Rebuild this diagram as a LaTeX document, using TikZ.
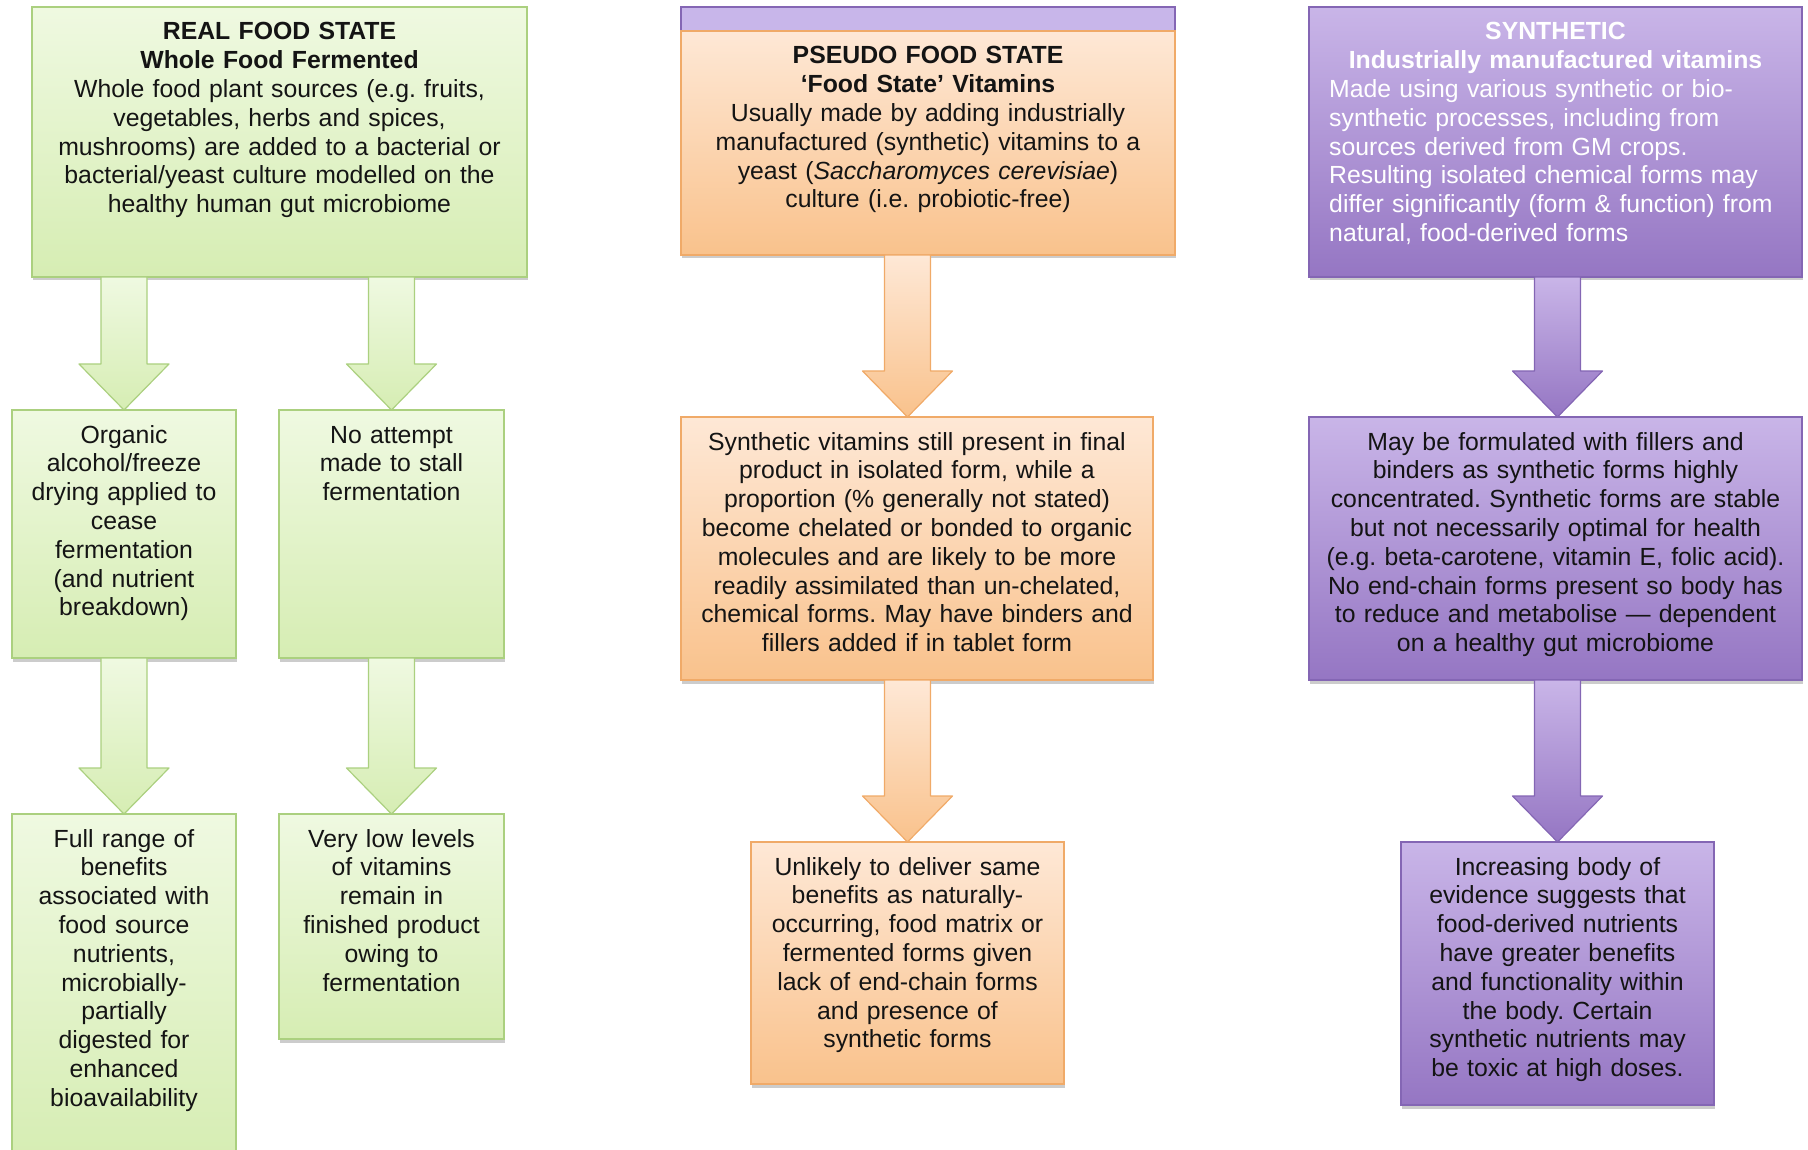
\documentclass[tikz,border=0pt]{standalone}
\usepackage{fontspec}
\setmainfont{Liberation Sans}
\usetikzlibrary{calc,shadows}
\frenchspacing
\definecolor{gB}{HTML}{ABD07F}
\definecolor{gT}{HTML}{EFF9E1}
\definecolor{gD}{HTML}{D6EDB3}
\definecolor{oB}{HTML}{F0AA68}
\definecolor{oT}{HTML}{FEE8D6}
\definecolor{oD}{HTML}{F9C28C}
\definecolor{pB}{HTML}{8466B4}
\definecolor{pT}{HTML}{C9B5E8}
\definecolor{pD}{HTML}{9576C3}
\definecolor{pS}{HTML}{C8B6EA}
\definecolor{ink}{HTML}{141414}
\tikzset{
  box/.style={draw, line width=1.2pt, inner sep=0pt, outer sep=0pt, anchor=north west,
    drop shadow={shadow xshift=0.5pt, shadow yshift=-3.5pt, opacity=0.4}},
  gbox/.style={box, draw=gB, top color=gT, bottom color=gD},
  obox/.style={box, draw=oB, top color=oT, bottom color=oD},
  pbox/.style={box, draw=pB, top color=pT, bottom color=pD},
  sbox/.style={draw=pB, line width=1.2pt, fill=pS, inner sep=0pt, outer sep=0pt, anchor=north west},
  garrow/.style={draw=gB, line width=1.2pt, line join=round, top color=gT, bottom color=gD},
  oarrow/.style={draw=oB, line width=1.2pt, line join=round, top color=oT, bottom color=oD},
  parrow/.style={draw=pB, line width=1.2pt, line join=round, top color=pT, bottom color=pD},
  txt/.style={align=center, inner sep=0pt, anchor=base, text=ink,
    font=\fontsize{24.8}{28.8}\selectfont},
}
% box: name, x1, y1, x2, y2, style
\newcommand\mkbox[6]{\node[#6, minimum width={#4-#2}, minimum height={#5-#3}] (#1) at (#2,#3) {};}
% block arrow: source, target, x-reference, style
\newcommand\barr[4]{\path[#4] let \p1=(#3.north), \p2=(#2.north), \p3=(#1.south) in
  (\x1-23pt,\y3) -- (\x1+23pt,\y3) -- (\x1+23pt,\y2+46pt) -- (\x1+45pt,\y2+46pt)
  -- (\x1,\y2) -- (\x1-45pt,\y2+46pt) -- (\x1-23pt,\y2+46pt) -- cycle;}
\begin{document}
\begin{tikzpicture}[x=1pt,y=-1pt]
\useasboundingbox (0,0) rectangle (1808,1150);
% boxes
\mkbox{g0}{32}{7}{527}{277}{gbox}
\mkbox{g1}{12}{410}{236}{658}{gbox}
\mkbox{g2}{279}{410}{504}{658}{gbox}
\mkbox{g3}{12}{814}{236}{1160}{gbox}
\mkbox{g4}{279}{814}{504}{1039}{gbox}
\mkbox{os}{681}{7}{1175}{31}{sbox}
\mkbox{o0}{681}{31}{1175}{255}{obox}
\mkbox{o1}{681}{417}{1153}{680}{obox}
\mkbox{o2}{751}{842}{1064}{1084}{obox}
\mkbox{p0}{1309}{7}{1802}{277}{pbox}
\mkbox{p1}{1309}{417}{1802}{680}{pbox}
\mkbox{p2}{1401}{842}{1714}{1105}{pbox}
% arrows
\barr{g0}{g1}{g1}{garrow}
\barr{g0}{g2}{g2}{garrow}
\barr{g1}{g3}{g3}{garrow}
\barr{g2}{g4}{g4}{garrow}
\barr{o0}{o1}{o2}{oarrow}
\barr{o1}{o2}{o2}{oarrow}
\barr{p0}{p1}{p2}{parrow}
\barr{p1}{p2}{p2}{parrow}
% texts
\node[txt, text width=520pt] (g0t) at ([yshift=-33pt]g0.north) {\textbf{REAL FOOD STATE}\\\textbf{Whole Food Fermented}\\Whole food plant sources (e.g. fruits,\\vegetables, herbs and spices,\\mushrooms) are added to a bacterial or\\bacterial/yeast culture modelled on the\\healthy human gut microbiome};
\node[txt, text width=260pt] (g1t) at ([yshift=-33pt]g1.north) {Organic\\alcohol/freeze\\drying applied to\\cease\\fermentation\\(and nutrient\\breakdown)};
\node[txt, text width=260pt] (g2t) at ([yshift=-33pt]g2.north) {No attempt\\made to stall\\fermentation};
\node[txt, text width=260pt] (g3t) at ([yshift=-33pt]g3.north) {Full range of\\benefits\\associated with\\food source\\nutrients,\\microbially-\\partially\\digested for\\enhanced\\bioavailability};
\node[txt, text width=260pt] (g4t) at ([yshift=-33pt]g4.north) {Very low levels\\of vitamins\\remain in\\finished product\\owing to\\fermentation};
\node[txt, text width=520pt] (o0t) at ([yshift=-33pt]o0.north) {\textbf{PSEUDO FOOD STATE}\\\textbf{‘Food State’ Vitamins}\\Usually made by adding industrially\\manufactured (synthetic) vitamins to a\\yeast (\textit{Saccharomyces cerevisiae})\\culture (i.e. probiotic-free)};
\node[txt, text width=520pt] (o1t) at ([yshift=-33pt]o1.north) {Synthetic vitamins still present in final\\product in isolated form, while a\\proportion (\% generally not stated)\\become chelated or bonded to organic\\molecules and are likely to be more\\readily assimilated than un-chelated,\\chemical forms. May have binders and\\fillers added if in tablet form};
\node[txt, text width=360pt] (o2t) at ([yshift=-33pt]o2.north) {Unlikely to deliver same\\benefits as naturally-\\occurring, food matrix or\\fermented forms given\\lack of end-chain forms\\and presence of\\synthetic forms};
\node[txt, text width=520pt, text=white] (p0h) at ([yshift=-33pt]p0.north) {\textbf{SYNTHETIC}\\\textbf{Industrially manufactured vitamins}};
\node[txt, text width=470pt, text=white, align=left, anchor=base west] (p0b) at ($(p0.north west)+(20pt,-90.6pt)$) {Made using various synthetic or bio-\\synthetic processes, including from\\sources derived from GM crops.\\Resulting isolated chemical forms may\\differ significantly (form \& function) from\\natural, food-derived forms};
\node[txt, text width=540pt] (p1t) at ([yshift=-33pt]p1.north) {May be formulated with fillers and\\binders as synthetic forms highly\\concentrated. Synthetic forms are stable\\but not necessarily optimal for health\\(e.g. beta-carotene, vitamin E, folic acid).\\No end-chain forms present so body has\\to reduce and metabolise — dependent\\on a healthy gut microbiome};
\node[txt, text width=360pt] (p2t) at ([yshift=-33pt]p2.north) {Increasing body of\\evidence suggests that\\food-derived nutrients\\have greater benefits\\and functionality within\\the body. Certain\\synthetic nutrients may\\be toxic at high doses.};
\end{tikzpicture}
\end{document}
